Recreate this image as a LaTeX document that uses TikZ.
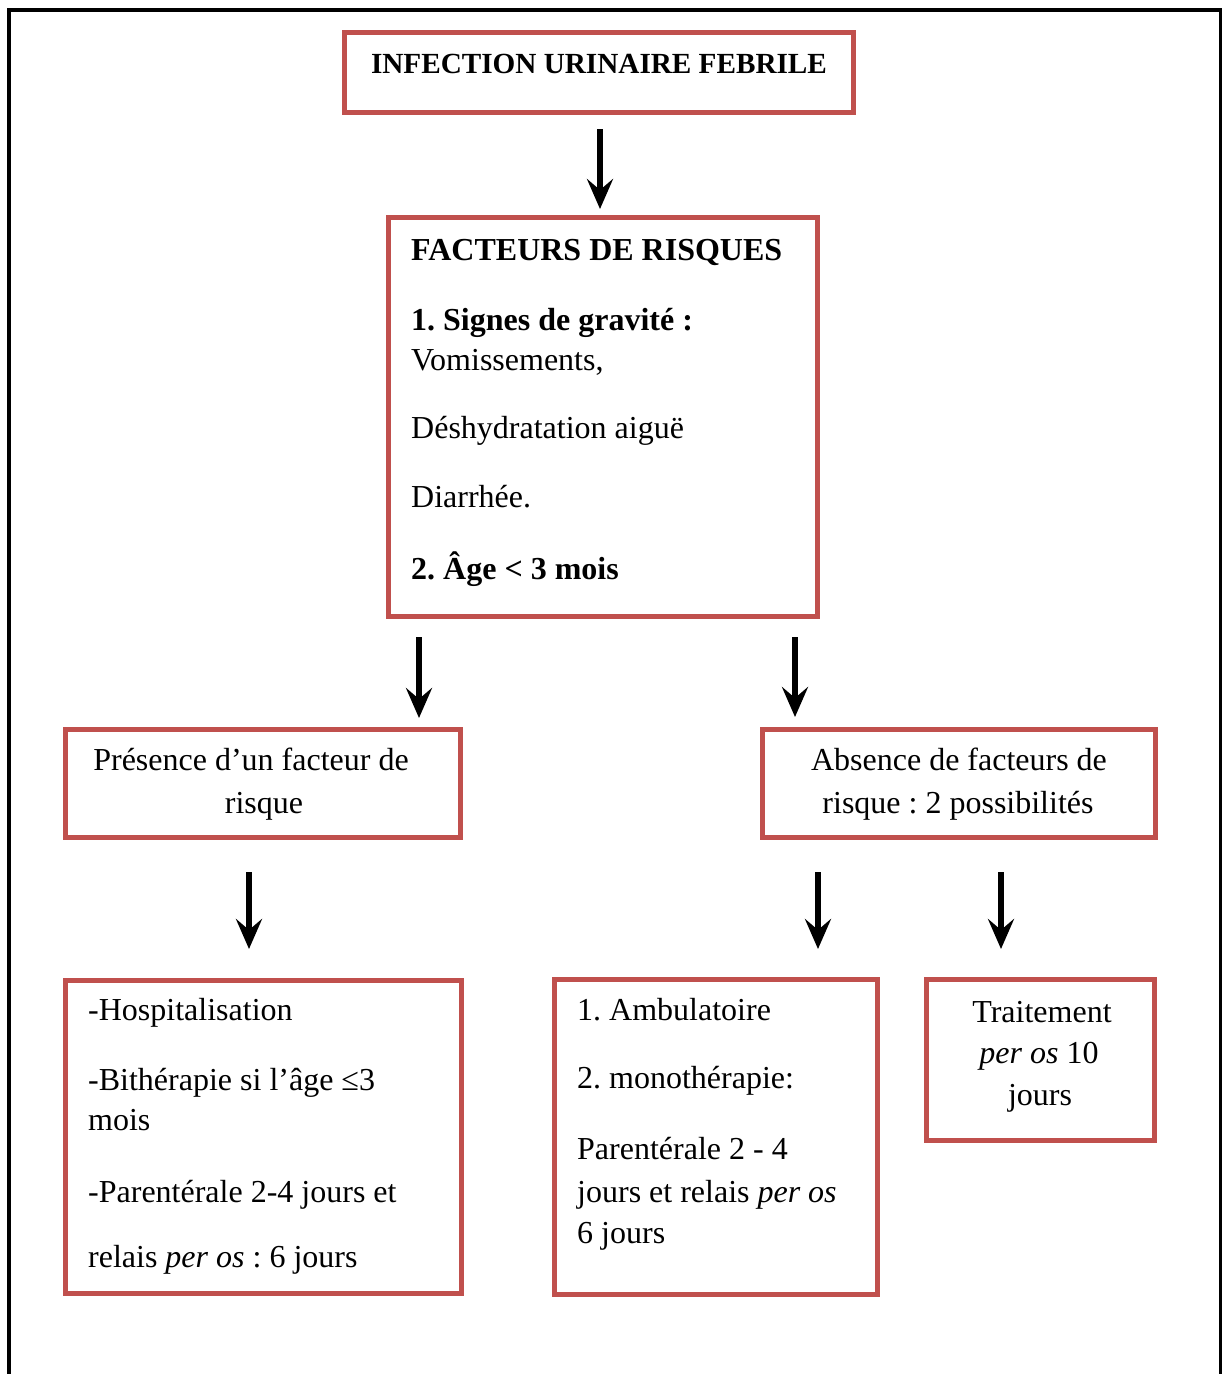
\documentclass[tikz,border=0pt]{standalone}
\usepackage{fontspec}
\setmainfont{Liberation Serif}
\usetikzlibrary{arrows.meta}
\definecolor{boxred}{HTML}{C0504D}
\frenchspacing
\tikzset{
  box/.style={draw=boxred, line width=5pt, fill=white, inner sep=0pt, rectangle},
  txt/.style={inner sep=0pt, font=\fontsize{32}{42}\selectfont},
  ttl/.style={inner sep=0pt, font=\fontsize{29.2}{36}\selectfont\bfseries},
  arr/.style={line width=6pt, -{Stealth[length=30pt, width=26pt, inset=11pt]}},
}
\begin{document}
\begin{tikzpicture}[x=1pt, y=-1pt]
\useasboundingbox (0,0) rectangle (1223,1374);
% outer frame
\draw[line width=3.5pt] (9,1380) -- (9,10) -- (1220.5,10) -- (1220.5,1380);

% boxes
\node[box, minimum width=509pt, minimum height=80pt] (b1) at (599,72.5) {};
\node[box, minimum width=429pt, minimum height=399pt] (b2) at (603,417) {};
\node[box, minimum width=395pt, minimum height=108pt] (b3) at (263,783.5) {};
\node[box, minimum width=393pt, minimum height=108pt] (b4) at (959,783.5) {};
\node[box, minimum width=396pt, minimum height=313pt] (b5) at (263.5,1137) {};
\node[box, minimum width=323pt, minimum height=315pt] (b6) at (716,1137) {};
\node[box, minimum width=228pt, minimum height=161pt] (b7) at (1040.5,1060) {};

% texts
\node[ttl, anchor=base] (t1) at (599,73) {INFECTION URINAIRE FEBRILE};

\node[txt, anchor=base west] (t2a) at (411,260) {\bfseries FACTEURS DE RISQUES};
\node[txt, anchor=base west] (t2b) at (411,330) {\bfseries 1. Signes de gravité :};
\node[txt, anchor=base west] (t2c) at (411,370) {Vomissements,};
\node[txt, anchor=base west] (t2d) at (411,438) {Déshydratation aiguë};
\node[txt, anchor=base west] (t2e) at (411,507) {Diarrhée.};
\node[txt, anchor=base west] (t2f) at (411,579) {\bfseries 2. Âge < 3 mois};

\node[txt, anchor=base] (t3a) at (251,770) {Présence d’un facteur de};
\node[txt, anchor=base] (t3b) at (264,813) {risque};

\node[txt, anchor=base] (t4a) at (959,770) {Absence de facteurs de};
\node[txt, anchor=base] (t4b) at (958,813) {risque : 2 possibilités};

\node[txt, anchor=base west] (t5a) at (88,1020) {-Hospitalisation};
\node[txt, anchor=base west] (t5b) at (88,1090) {-Bithérapie si l’âge ≤3};
\node[txt, anchor=base west] (t5c) at (88,1130) {mois};
\node[txt, anchor=base west] (t5d) at (88,1202) {-Parentérale 2-4 jours et};
\node[txt, anchor=base west] (t5e) at (88,1267) {relais \textit{per os} : 6 jours};

\node[txt, anchor=base west] (t6a) at (577,1020) {1. Ambulatoire};
\node[txt, anchor=base west] (t6b) at (577,1088) {2. monothérapie:};
\node[txt, anchor=base west] (t6c) at (577,1159) {Parentérale 2 - 4};
\node[txt, anchor=base west] (t6d) at (577,1202) {jours et relais \textit{per os}};
\node[txt, anchor=base west] (t6e) at (577,1243) {6 jours};

\node[txt, anchor=base] (t7a) at (1042,1022) {Traitement};
\node[txt, anchor=base] (t7b) at (1039,1063) {\textit{per os} 10};
\node[txt, anchor=base] (t7c) at (1040,1105) {jours};

% arrow end points
\coordinate (a1s) at (600,129);  \coordinate (a1e) at (600,209);
\coordinate (a2s) at (419,637);  \coordinate (a2e) at (419,718);
\coordinate (a3s) at (795,637);  \coordinate (a3e) at (795,717);
\coordinate (a4s) at (249,872);  \coordinate (a4e) at (249,949);
\coordinate (a5s) at (818,872);  \coordinate (a5e) at (818,949);
\coordinate (a6s) at (1001,872); \coordinate (a6e) at (1001,949);

\draw[arr] (a1s) -- (a1e);
\draw[arr] (a2s) -- (a2e);
\draw[arr] (a3s) -- (a3e);
\draw[arr] (a4s) -- (a4e);
\draw[arr] (a5s) -- (a5e);
\draw[arr] (a6s) -- (a6e);
\end{tikzpicture}
\end{document}
